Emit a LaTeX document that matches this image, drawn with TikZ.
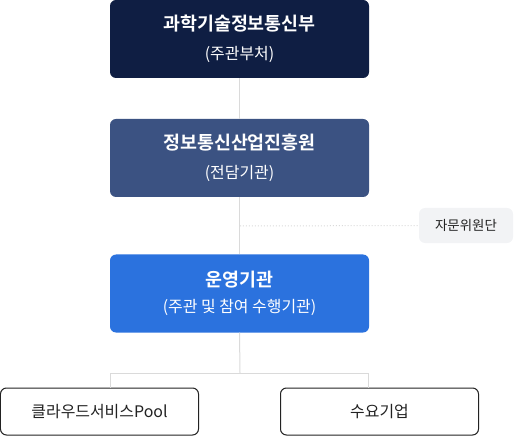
\documentclass[tikz,border=0pt]{standalone}
\usepackage{fontspec}
\newfontfamily\kr{Noto Sans CJK KR}[BoldFont={Noto Sans CJK KR Bold}]
\definecolor{navy}{HTML}{0F1E43}
\definecolor{slate}{HTML}{3B5282}
\definecolor{brand}{HTML}{2B72DE}
\definecolor{wire}{HTML}{DADADA}
\definecolor{pale}{HTML}{F2F3F5}
\definecolor{ink}{HTML}{222222}
\tikzset{
  orgbox/.style={rounded corners=6bp, minimum width=259bp, minimum height=78bp, text=white, align=center, inner sep=0pt},
  endbox/.style={draw=ink, line width=1bp, rounded corners=6bp, fill=white, minimum width=198bp, minimum height=47bp, text=ink, font=\kr\fontsize{16}{18}\selectfont},
  wire/.style={draw=wire, line width=1bp}
}
\newcommand{\ttl}[1]{{\fontsize{18.5}{21}\bfseries #1}}
\newcommand{\sub}[1]{{\fontsize{16}{18}\selectfont #1}}
\begin{document}
\begin{tikzpicture}[x=1bp,y=-1bp,font=\kr]
 \useasboundingbox (0,0) rectangle (514,436);
 % 세로 연결선
 \coordinate (tap) at (240,226);
 \coordinate (split) at (240,373);
 \node[orgbox, fill=navy] (msit) at (239.5,39) {\ttl{과학기술정보통신부}\\[13bp]\sub{(주관부처)}};
 \node[orgbox, fill=slate] (nipa) at (239.5,158) {\ttl{정보통신산업진흥원}\\[13bp]\sub{(전담기관)}};
 \node[orgbox, fill=brand] (ops) at (239.5,293.5) {\ttl{운영기관}\\[10bp]\sub{(주관 및 참여 수행기관)}};
 \node[fill=pale, rounded corners=6bp, minimum width=94bp, minimum height=35bp, inner sep=0pt, text=ink, font=\kr\fontsize{13.5}{16}\selectfont] (adv) at (466,225.5) {자문위원단};
 \node[endbox] (cloud) at (99.5,411.5) {클라우드서비스Pool};
 \node[endbox] (demand) at (379.5,411.5) {수요기업};
 \draw[wire] (msit.south) -- (nipa.north);
 \draw[wire] (nipa.south) -- (ops.north);
 \draw[wire, dotted] (tap) -- (adv.west);
 \draw[wire] (ops.south) -- (split);
 \draw[wire] (split) -| ([xshift=10.5bp]cloud.north);
 \draw[wire] (split) -| ([xshift=-11.5bp]demand.north);
\end{tikzpicture}
\end{document}
